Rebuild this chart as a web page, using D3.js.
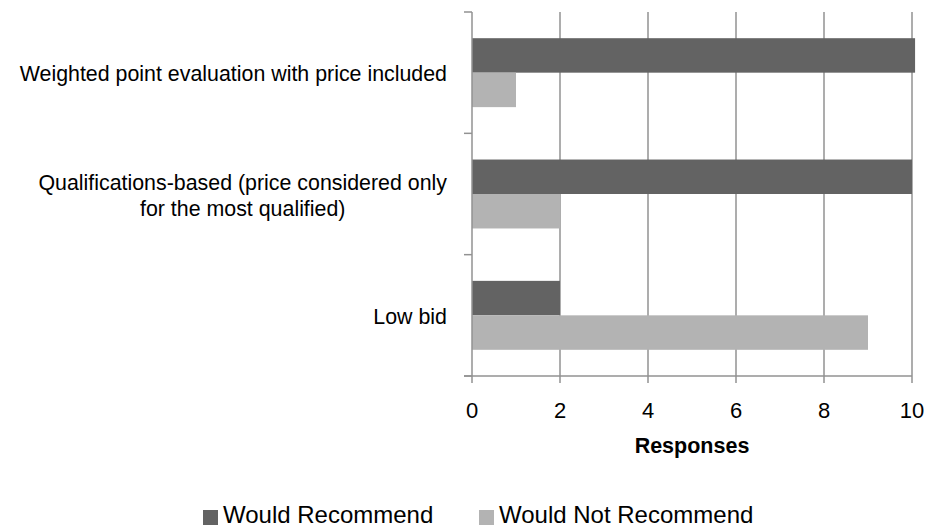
<!DOCTYPE html>
<html>
<head>
<meta charset="utf-8">
<script src="https://cdn.jsdelivr.net/npm/d3@7"></script>
<style>
  html, body { margin: 0; padding: 0; background: #ffffff; }
  svg { display: block; font-family: "Liberation Sans", Arial, sans-serif; }
</style>
</head>
<body>
<svg id="chart" width="926" height="529"></svg>
<script>
// Evaluation methods (each label split into its display lines)
const categories = [
  ["Weighted point evaluation with price included"],
  ["Qualifications-based (price considered only", "for the most qualified)"],
  ["Low bid"]
];
const seriesNames = ["Would Recommend", "Would Not Recommend"];
const wouldRecommend = [10.07, 10, 2];
const wouldNotRecommend = [1, 2, 9];
const xTicks = [0, 2, 4, 6, 8, 10];
const xTitle = "Responses";

const colors = ["#636363", "#b3b3b3"];
const labelSize = 23;
const labelSqueeze = 0.93; // slightly narrow category text

const svg = d3.select("#chart");
const plot = { left: 472, right: 912, top: 12, bottom: 376 };

const catKeys = categories.map((c, i) => i);
const x = d3.scaleLinear().domain([0, 10]).range([plot.left, plot.right]);
const y = d3.scaleBand().domain(catKeys).range([plot.top, plot.bottom]).padding(0);
const ySeries = d3.scaleBand().domain(seriesNames).range([0, y.bandwidth()])
  .paddingInner(0).paddingOuter(0.76);

const gridColor = "#929292";

// vertical gridlines
svg.append("g").selectAll("line").data(xTicks.filter(t => t > 0)).join("line")
  .attr("x1", d => x(d)).attr("x2", d => x(d))
  .attr("y1", plot.top).attr("y2", plot.bottom)
  .attr("stroke", gridColor).attr("stroke-width", 1.5);

// bars
const values = [wouldRecommend, wouldNotRecommend];
seriesNames.forEach((s, si) => {
  svg.append("g").selectAll("rect").data(values[si]).join("rect")
    .attr("x", x(0))
    .attr("y", (d, i) => y(i) + ySeries(s))
    .attr("width", d => x(d) - x(0))
    .attr("height", ySeries.bandwidth())
    .attr("fill", colors[si]);
});

// category axis (left)
const yAxisG = svg.append("g");
yAxisG.append("line")
  .attr("x1", plot.left).attr("x2", plot.left)
  .attr("y1", plot.top).attr("y2", plot.bottom)
  .attr("stroke", gridColor).attr("stroke-width", 1.5);
const boundaries = catKeys.map(i => y(i)).concat([plot.bottom]);
yAxisG.selectAll("line.tick").data(boundaries).join("line")
  .attr("class", "tick")
  .attr("x1", plot.left - 8).attr("x2", plot.left)
  .attr("y1", d => d).attr("y2", d => d)
  .attr("stroke", gridColor).attr("stroke-width", 1.5);

// category labels
const lineGap = 26;
const labelG = svg.append("g");
categories.forEach((lines, i) => {
  const cy = y(i) + y.bandwidth() / 2;
  const g = labelG.append("g")
    .attr("transform", `translate(447,${cy}) scale(${labelSqueeze},1)`);
  const t = g.append("text")
    .attr("font-size", labelSize).attr("fill", "#000");
  const n = lines.length;
  if (n === 1) {
    t.attr("text-anchor", "end").attr("dy", "0.37em").text(lines[0]);
  } else {
    // multi-line: lines centred on each other, right edge at the label margin
    const tmp = g.append("text").attr("font-size", labelSize).text(lines[0]);
    const w = tmp.node().getComputedTextLength();
    tmp.remove();
    t.attr("text-anchor", "middle");
    lines.forEach((ln, k) => {
      t.append("tspan")
        .attr("x", -w / 2)
        .attr("y", (k - (n - 1) / 2) * lineGap)
        .attr("dy", "0.37em")
        .text(ln);
    });
  }
});

// value axis (bottom)
const xAxisG = svg.append("g");
xAxisG.append("line")
  .attr("x1", plot.left - 8).attr("x2", plot.right)
  .attr("y1", plot.bottom).attr("y2", plot.bottom)
  .attr("stroke", gridColor).attr("stroke-width", 1.5);
xAxisG.selectAll("line.tick").data(xTicks).join("line")
  .attr("class", "tick")
  .attr("x1", d => x(d)).attr("x2", d => x(d))
  .attr("y1", plot.bottom).attr("y2", plot.bottom + 7)
  .attr("stroke", gridColor).attr("stroke-width", 1.5);
xAxisG.selectAll("text").data(xTicks).join("text")
  .attr("x", d => x(d)).attr("y", 418)
  .attr("text-anchor", "middle")
  .attr("font-size", 22).attr("fill", "#000")
  .text(d => d);

// axis title
svg.append("text")
  .attr("x", (plot.left + plot.right) / 2).attr("y", 453)
  .attr("text-anchor", "middle")
  .attr("font-size", 21.5).attr("font-weight", "bold").attr("fill", "#000")
  .text(xTitle);

// legend
const legendX = [203, 479];
const legend = svg.append("g");
seriesNames.forEach((s, i) => {
  legend.append("rect")
    .attr("x", legendX[i]).attr("y", 510)
    .attr("width", 15).attr("height", 15)
    .attr("fill", colors[i]);
  legend.append("text")
    .attr("x", legendX[i] + 20).attr("y", 523)
    .attr("font-size", 24).attr("fill", "#000")
    .text(s);
});
</script>
</body>
</html>
